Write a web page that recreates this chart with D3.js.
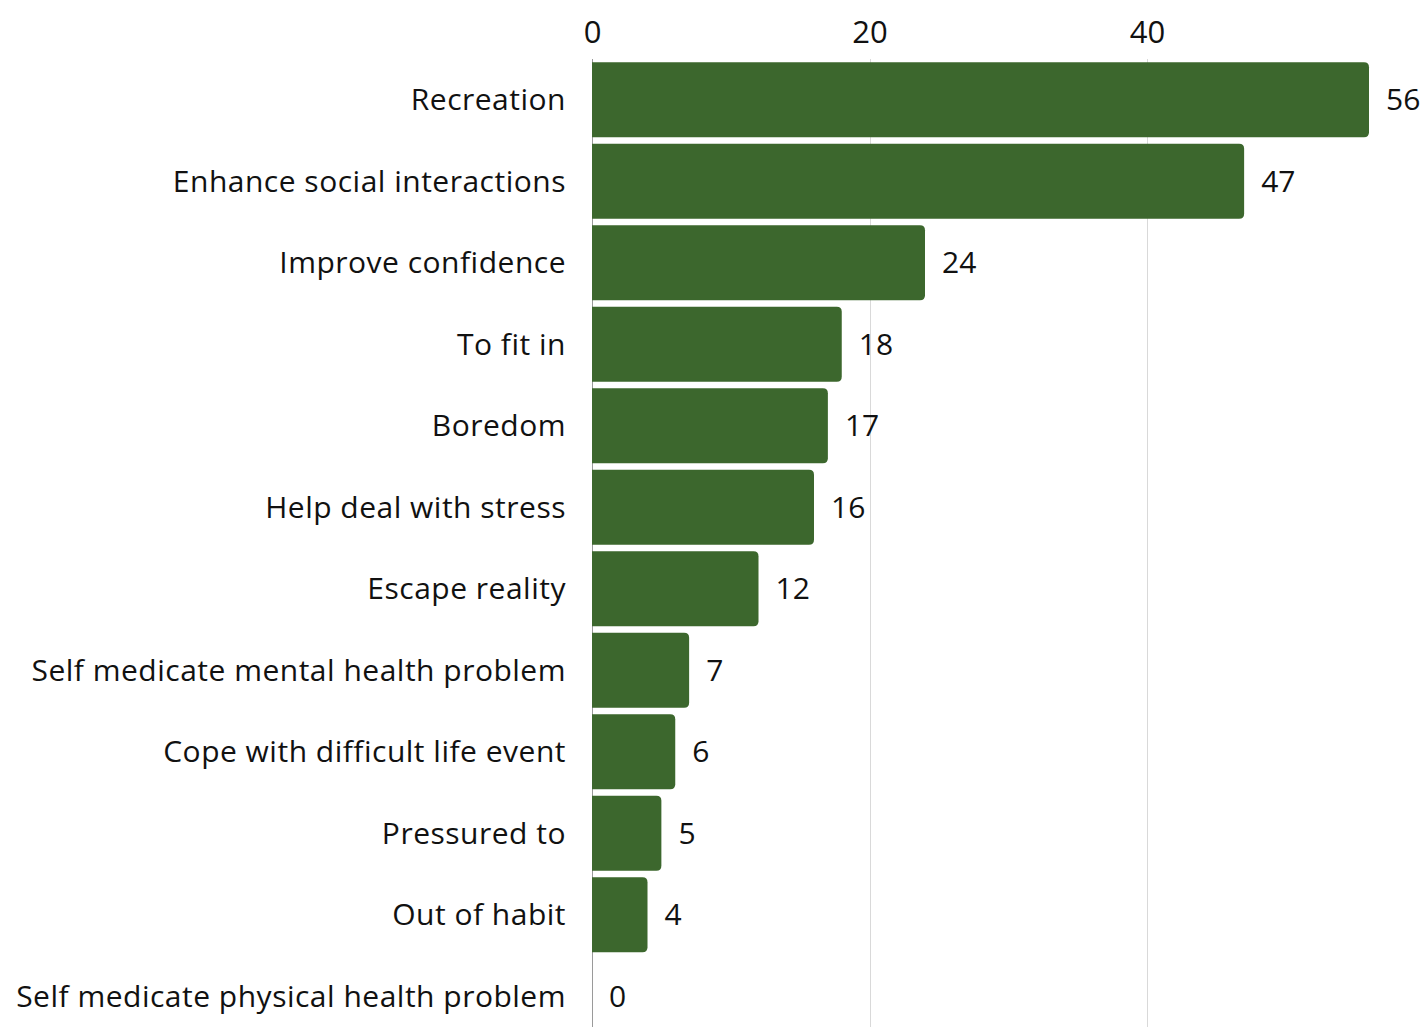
<!DOCTYPE html>
<html>
<head>
<meta charset="utf-8">
<script src="https://cdn.jsdelivr.net/npm/d3@7"></script>
<style>
  html, body { margin: 0; padding: 0; background: #fff; }
  svg { display: block; font-family: "Open Sans", Lato, sans-serif; font-weight: 500; }
</style>
</head>
<body>
<svg id="chart" width="1424" height="1027"></svg>
<script>
// Reasons given for use, with number of respondents
const categories = [
  "Recreation",
  "Enhance social interactions",
  "Improve confidence",
  "To fit in",
  "Boredom",
  "Help deal with stress",
  "Escape reality",
  "Self medicate mental health problem",
  "Cope with difficult life event",
  "Pressured to",
  "Out of habit",
  "Self medicate physical health problem"
];
const values = [56, 47, 24, 18, 17, 16, 12, 7, 6, 5, 4, 0];
const tickValues = [0, 20, 40];

const W = 1424, H = 1027;
const svg = d3.select("#chart");

const x = d3.scaleLinear().domain([0, 20]).range([592, 869.5]);
const y = d3.scaleBand()
  .domain(categories)
  .range([59, 1037])
  .paddingInner(0.08)
  .paddingOuter(0.04);

// vertical gridlines
svg.append("g")
  .selectAll("line")
  .data(tickValues.filter(d => d > 0))
  .join("line")
  .attr("x1", d => Math.round(x(d)) + 0.5)
  .attr("x2", d => Math.round(x(d)) + 0.5)
  .attr("y1", 59)
  .attr("y2", H)
  .attr("stroke", "#d9d9d9")
  .attr("stroke-width", 1);

// zero baseline
svg.append("line")
  .attr("x1", Math.round(x(0)) + 0.5)
  .attr("x2", Math.round(x(0)) + 0.5)
  .attr("y1", 59)
  .attr("y2", H)
  .attr("stroke", "#9a9a9a")
  .attr("stroke-width", 1);

// top axis labels
const xAxis = d3.axisTop(x).tickValues(tickValues).tickSize(0).tickPadding(0);
const ax = svg.append("g").attr("transform", "translate(0,43)").call(xAxis);
ax.select(".domain").remove();
ax.selectAll("text")
  .attr("font-size", 31)
  .attr("font-weight", 500)
  .attr("fill", "#111")
  .attr("font-family", "'Open Sans', Lato, sans-serif");

// bars with rounded right ends
const r = 5;
function barPath(d, i) {
  const x0 = x(0), x1 = x(values[i]);
  const y0 = y(categories[i]), h = y.bandwidth();
  const w = x1 - x0;
  if (w <= 0) return "";
  const rr = Math.min(r, w, h / 2);
  return `M${x0},${y0}H${x1 - rr}Q${x1},${y0} ${x1},${y0 + rr}` +
         `V${y0 + h - rr}Q${x1},${y0 + h} ${x1 - rr},${y0 + h}H${x0}Z`;
}
svg.append("g")
  .selectAll("path")
  .data(values)
  .join("path")
  .attr("d", barPath)
  .attr("fill", "#3c672d");

// category labels
svg.append("g")
  .selectAll("text")
  .data(categories)
  .join("text")
  .attr("x", 566)
  .attr("y", d => y(d) + y.bandwidth() / 2)
  .attr("dy", "0.35em")
  .attr("text-anchor", "end")
  .attr("font-size", 30)
  .attr("letter-spacing", 0.5)
  .attr("fill", "#111")
  .text(d => d);

// value labels
svg.append("g")
  .selectAll("text")
  .data(values)
  .join("text")
  .attr("x", d => x(d) + 17)
  .attr("y", (d, i) => y(categories[i]) + y.bandwidth() / 2)
  .attr("dy", "0.35em")
  .attr("font-size", 30)
  .attr("fill", "#111")
  .text(d => d);
</script>
</body>
</html>
